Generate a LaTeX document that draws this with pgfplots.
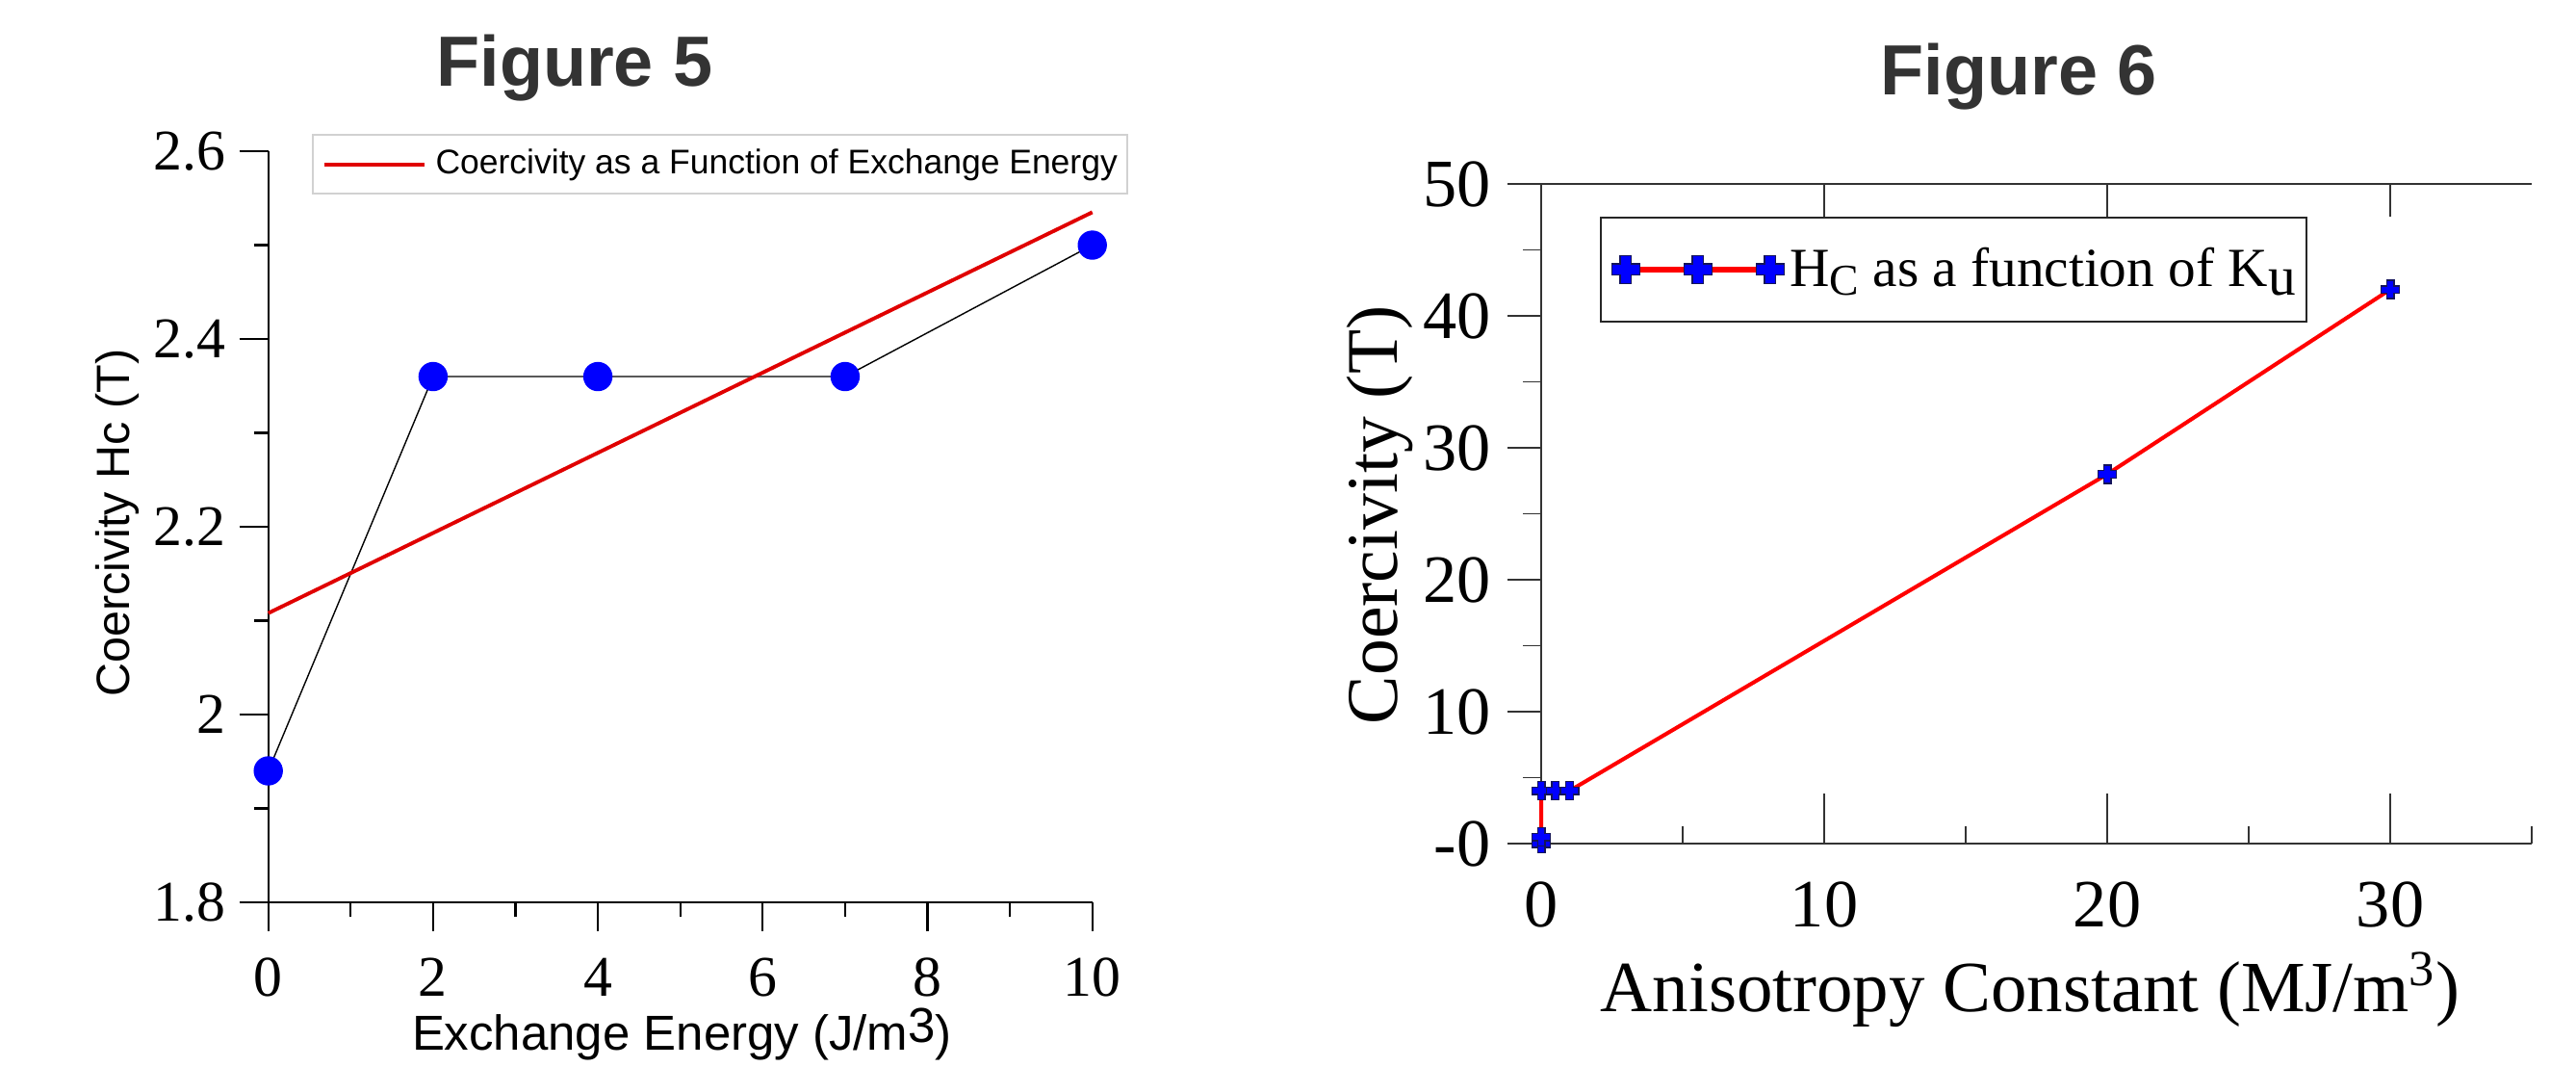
\documentclass[border=0pt]{standalone}
\usepackage{fontspec}
\setmainfont{Liberation Serif}
\newfontfamily\arialf{Liberation Sans}
\usepackage{pgfplots}
\usepackage{pgfplotstable}
\pgfplotsset{compat=1.18}

\definecolor{titlegray}{HTML}{333333}
\definecolor{navy}{HTML}{14145A}
\definecolor{fitred}{HTML}{E00000}

% filled plus sign, as drawn by xmgrace
\pgfdeclareplotmark{fatplus}{%
  \pgfpathmoveto{\pgfqpoint{-.4\pgfplotmarksize}{\pgfplotmarksize}}%
  \pgfpathlineto{\pgfqpoint{.4\pgfplotmarksize}{\pgfplotmarksize}}%
  \pgfpathlineto{\pgfqpoint{.4\pgfplotmarksize}{.4\pgfplotmarksize}}%
  \pgfpathlineto{\pgfqpoint{\pgfplotmarksize}{.4\pgfplotmarksize}}%
  \pgfpathlineto{\pgfqpoint{\pgfplotmarksize}{-.4\pgfplotmarksize}}%
  \pgfpathlineto{\pgfqpoint{.4\pgfplotmarksize}{-.4\pgfplotmarksize}}%
  \pgfpathlineto{\pgfqpoint{.4\pgfplotmarksize}{-\pgfplotmarksize}}%
  \pgfpathlineto{\pgfqpoint{-.4\pgfplotmarksize}{-\pgfplotmarksize}}%
  \pgfpathlineto{\pgfqpoint{-.4\pgfplotmarksize}{-.4\pgfplotmarksize}}%
  \pgfpathlineto{\pgfqpoint{-\pgfplotmarksize}{-.4\pgfplotmarksize}}%
  \pgfpathlineto{\pgfqpoint{-\pgfplotmarksize}{.4\pgfplotmarksize}}%
  \pgfpathlineto{\pgfqpoint{-.4\pgfplotmarksize}{.4\pgfplotmarksize}}%
  \pgfpathclose
  \pgfusepathqfillstroke}

% Figure 5: coercivity vs exchange energy
\pgfplotstableread{
x y
0 1.94
2 2.36
4 2.36
7 2.36
10 2.50
}\hcdata
\pgfplotstableread{
x y
0 2.108
10 2.535
}\fitdata
% Figure 6: coercivity vs anisotropy constant
\pgfplotstableread{
x y
0 0.0
0 0.5
0 4
0.5 4
1 4
20 28
30 42
}\kudata

\begin{document}
\begin{tikzpicture}
\path[use as bounding box] (0,0) rectangle (26.76,11.07);

\node[anchor=base, font=\arialf\bfseries\fontsize{21}{21}\selectfont, text=titlegray] at (5.97,10.18) {Figure 5};
\node[anchor=base, font=\arialf\bfseries\fontsize{21}{21}\selectfont, text=titlegray] at (20.97,10.09) {Figure 6};

\begin{axis}[
  at={(2.787cm,1.70cm)}, anchor=south west, scale only axis,
  width=8.56cm, height=7.80cm,
  xmin=0, xmax=10, ymin=1.8, ymax=2.6,
  axis x line=bottom, axis y line=left,
  axis line style={-, line width=0.6pt},
  tick style={line width=0.6pt, black},
  tick align=outside, major tick length=0.30cm, minor tick length=0.15cm,
  xtick={0,2,...,10}, minor x tick num=1,
  ytick={1.8,2,2.2,2.4,2.6}, minor y tick num=1,
  /pgf/number format/assume math mode=true,
  tick label style={font=\fontsize{17}{17}\selectfont},
  xticklabel style={anchor=north, inner sep=0pt, yshift=-0.27cm},
  yticklabel style={anchor=east, inner sep=0pt, xshift=-0.14cm},
  xlabel={Exchange Energy (J/m\raisebox{0.3ex}{3})},
  ylabel={Coercivity Hc (T)},
  xlabel style={at={(axis description cs:0.502,-0.197)}, anchor=base, inner sep=0pt,
    font=\arialf\fontsize{14.5}{15}\selectfont},
  ylabel style={at={(axis description cs:-0.169,0.505)}, anchor=base, inner sep=0pt,
    font=\arialf\fontsize{13.8}{14}\selectfont},
  clip=false,
  legend cell align=left,
  legend style={at={(0.0525,1.023)}, anchor=north west, draw=black!18, line width=0.6pt,
    inner xsep=0.10cm, inner ysep=0.15cm, nodes={inner sep=0pt}, column sep=0.10cm,
    font=\arialf\fontsize{10.1}{12}\selectfont},
  legend image code/.code={\draw[fitred, line width=1.1pt] (0cm,0cm) -- (1.04cm,0cm);},
]
\addplot[black, line width=0.4pt, mark=*, mark size=0.145cm,
  mark options={fill=blue, draw=blue}, forget plot] table {\hcdata};
\addplot[fitred, line width=1.1pt] table {\fitdata};
\addlegendentry{Coercivity as a Function of Exchange Energy}
\end{axis}

% Figure 6, top x line with inward ticks
\begin{axis}[
  at={(16.01cm,2.31cm)}, anchor=south west, scale only axis,
  width=10.29cm, height=6.85cm,
  xmin=0, xmax=35, ymin=0, ymax=50,
  axis x line=top, axis y line=none,
  axis line style={-, line width=0.5pt, black!80, shorten <=-0.35cm},
  tick style={line width=0.5pt, black!80},
  tick align=inside, major tick length=0.34cm,
  xtick={10,20,30}, xticklabels={}, ytick=\empty,
]
\end{axis}

% Figure 6, bottom x line with inward ticks
\begin{axis}[
  at={(16.01cm,2.31cm)}, anchor=south west, scale only axis,
  width=10.29cm, height=6.85cm,
  xmin=0, xmax=35, ymin=0, ymax=50,
  axis x line=bottom, axis y line=none,
  axis line style={-, line width=0.5pt, black!80, shorten <=-0.35cm},
  tick style={line width=0.5pt, black!80},
  tick align=inside, major tick length=0.52cm, minor tick length=0.18cm,
  xtick={0,10,20,30}, minor xtick={5,15,25,35}, ytick=\empty,
  /pgf/number format/assume math mode=true,
  xticklabel style={anchor=north, inner sep=0pt, yshift=-0.39cm,
    font=\fontsize{20}{20}\selectfont},
  xlabel={Anisotropy Constant (MJ/m\textsuperscript{3})},
  xlabel style={at={(axis description cs:0.0593,-0.254)}, anchor=base west, inner sep=0pt,
    font=\fontsize{21.3}{22}\selectfont},
]
\end{axis}

% Figure 6, y axis and data
\begin{axis}[
  at={(16.01cm,2.31cm)}, anchor=south west, scale only axis,
  width=10.29cm, height=6.85cm,
  xmin=0, xmax=35, ymin=0, ymax=50,
  axis x line=none, axis y line=left,
  axis line style={-, line width=0.5pt, black!80},
  tick style={line width=0.5pt, black!80},
  tick align=outside, major tick length=0.35cm, minor tick length=0.19cm,
  xtick=\empty, ytick={0,10,...,50}, yticklabels={-0,10,20,30,40,50},
  minor y tick num=1,
  yticklabel style={anchor=east, inner sep=0pt, xshift=-0.17cm,
    font=\fontsize{20}{20}\selectfont},
  ylabel={Coercivity (T)},
  ylabel style={at={(axis description cs:-0.145,0.498)}, anchor=base, inner sep=0pt,
    font=\fontsize{21.5}{22}\selectfont},
  clip=false,
  legend cell align=left,
  legend style={at={(0.0593,0.950)}, anchor=north west, draw=black!85, line width=0.5pt,
    inner xsep=0.115cm, inner ysep=0.31cm, nodes={inner sep=0pt}, column sep=0.06cm,
    font=\fontsize{16.3}{16.3}\selectfont},
  legend image code/.code={
    \draw[red, line width=1.5pt] (0cm,0cm) -- (1.50cm,0cm);
    \draw[fill=blue, draw=navy, line width=0.5pt] plot[only marks, mark=fatplus, mark size=0.145cm]
      coordinates {(0cm,0cm) (0.75cm,0cm) (1.50cm,0cm)};},
]
\addplot[red, line width=1.15pt, mark=fatplus, mark size=0.095cm,
  mark options={fill=blue, draw=navy, line width=0.4pt, solid}] table {\kudata};
\addlegendentry{H\raisebox{-0.35ex}{\fontsize{13}{13}\selectfont C} as a function of K\raisebox{-0.35ex}{u}}
\end{axis}
\end{tikzpicture}
\end{document}
